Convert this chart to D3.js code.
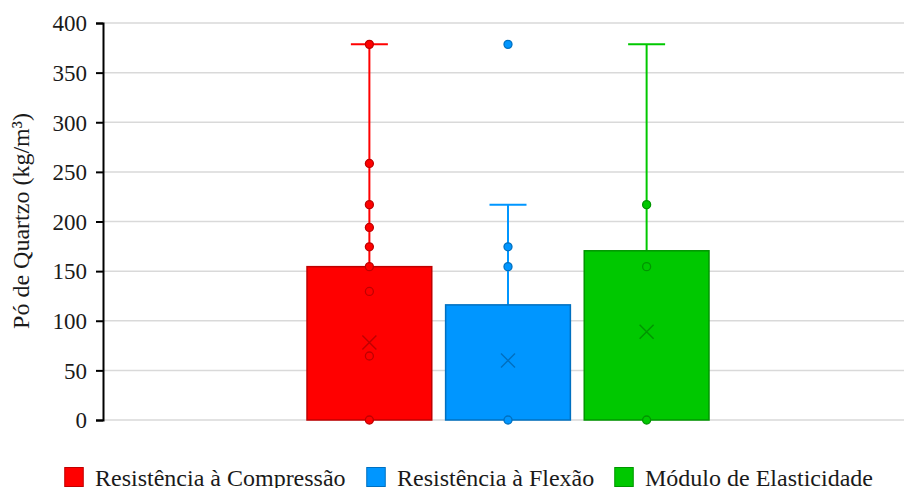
<!DOCTYPE html>
<html>
<head>
<meta charset="utf-8">
<script src="https://cdn.jsdelivr.net/npm/d3@7"></script>
<style>
  html, body { margin: 0; padding: 0; background: #fff; }
  svg { display: block; }
  svg text { font-family: "Liberation Serif", "Times New Roman", serif !important; fill: #1a1a1a; }
</style>
</head>
<body>
<svg id="chart" width="904" height="488"></svg>
<script>
// ---- data ----
const categories = ["Resistência à Compressão", "Resistência à Flexão", "Módulo de Elasticidade"];
const boxLow = [0, 0, 0];
const boxHigh = [154.5, 116, 170.5];
const whiskerHigh = [378.5, 217, 378.5];
const means = [78, 60, 89];
const pointsCompressao = [0, 64.5, 129.5, 154.5, 174.5, 194, 217, 258.5, 378.5];
const pointsFlexao = [0, 154.5, 174.5, 378.5];
const pointsElasticidade = [0, 154.5, 217];
const yTicks = [0, 50, 100, 150, 200, 250, 300, 350, 400];
const yLabel = "Pó de Quartzo (kg/m³)";

const pointSets = [pointsCompressao, pointsFlexao, pointsElasticidade];
const fills = ["#FF0000", "#0096FF", "#00C800"];
const strokes = ["#C00000", "#0070C0", "#009600"];

// ---- layout ----
const svg = d3.select("#chart");
const plotLeft = 103, plotRight = 904, plotTop = 23, plotBottom = 420;

const y = d3.scaleLinear().domain([0, 400]).range([plotBottom, plotTop]);
const x = d3.scaleBand().domain(categories).range([307, 709]).paddingInner(0.1).paddingOuter(0);

// gridlines
svg.append("g").selectAll("line").data(yTicks).join("line")
  .attr("x1", plotLeft).attr("x2", plotRight)
  .attr("y1", d => y(d)).attr("y2", d => y(d))
  .attr("stroke", "#D9D9D9").attr("stroke-width", 1.5);

// y axis
const yAxis = d3.axisLeft(y).tickValues(yTicks).tickSize(7).tickPadding(9).tickFormat(d3.format("d"));
const ag = svg.append("g").attr("transform", `translate(${plotLeft},0)`)
  .call(yAxis)
  .attr("font-family", "Liberation Serif, serif")
  .attr("font-size", 23);
ag.select(".domain").attr("stroke", "#000").attr("stroke-width", 2);
ag.selectAll(".tick line").attr("stroke", "#000").attr("stroke-width", 2);
ag.selectAll(".tick text").attr("fill", "#1a1a1a").attr("dy", "0.34em");

// y label
svg.append("text")
  .attr("transform", `translate(29,${221}) rotate(-90)`)
  .attr("text-anchor", "middle")
  .style("font-size", "24px")
  .text(yLabel);

// boxes
categories.forEach((c, i) => {
  const g = svg.append("g");
  const x0 = x(c), w = x.bandwidth(), cx = x0 + w / 2;
  // whisker
  g.append("line").attr("x1", cx).attr("x2", cx)
    .attr("y1", y(boxHigh[i])).attr("y2", y(whiskerHigh[i]))
    .attr("stroke", fills[i]).attr("stroke-width", 2);
  g.append("line").attr("x1", cx - 18.5).attr("x2", cx + 18.5)
    .attr("y1", y(whiskerHigh[i])).attr("y2", y(whiskerHigh[i]))
    .attr("stroke", fills[i]).attr("stroke-width", 2);
  // box
  g.append("rect").attr("x", x0).attr("width", w)
    .attr("y", y(boxHigh[i])).attr("height", y(boxLow[i]) - y(boxHigh[i]))
    .attr("fill", fills[i]).attr("stroke", strokes[i]).attr("stroke-width", 1.5);
  // points
  g.selectAll("circle").data(pointSets[i]).join("circle")
    .attr("cx", cx).attr("cy", d => y(d)).attr("r", 4)
    .attr("fill", fills[i]).attr("stroke", strokes[i]).attr("stroke-width", 1.3);
  // mean marker
  const my = y(means[i]), s = 7;
  g.append("path")
    .attr("d", `M${cx - s},${my - s}L${cx + s},${my + s}M${cx - s},${my + s}L${cx + s},${my - s}`)
    .attr("stroke", strokes[i]).attr("stroke-width", 1.5).attr("fill", "none");
});

// legend
const legendX = [64, 366, 614];
const lg = svg.append("g");
categories.forEach((c, i) => {
  lg.append("rect").attr("x", legendX[i] + 0.75).attr("y", 467.5).attr("width", 18.5).attr("height", 19)
    .attr("fill", fills[i]).attr("stroke", strokes[i]).attr("stroke-width", 1);
  lg.append("text").attr("x", legendX[i] + 31).attr("y", 485.5)
    .style("font-size", "24px").text(c);
});
</script>
</body>
</html>
